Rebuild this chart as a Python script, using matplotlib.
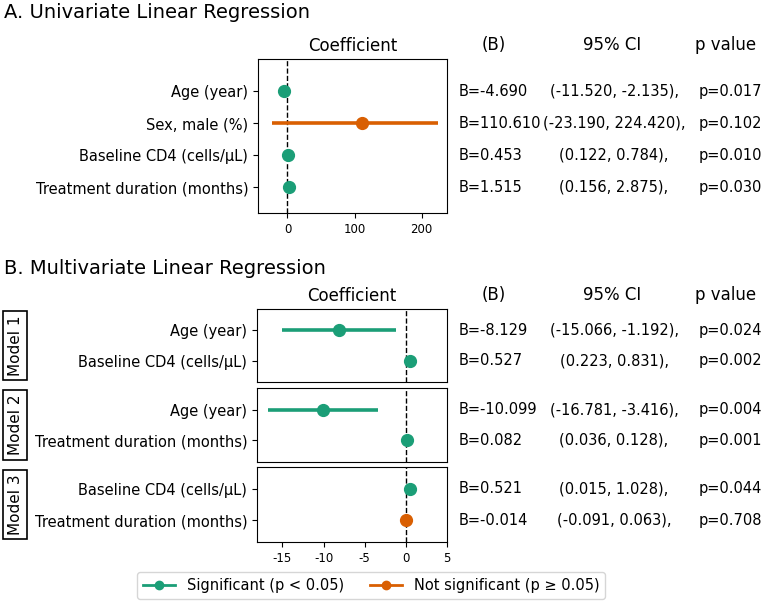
import matplotlib
matplotlib.use('agg')
import matplotlib.pyplot as plt
import matplotlib.transforms as mtransforms
from matplotlib.lines import Line2D

plt.rcParams['axes.unicode_minus'] = False

# univariate results
uni_labels = ["Age (year)", "Sex, male (%)", "Baseline CD4 (cells/μL)", "Treatment duration (months)"]
uni_b = [-4.690, 110.610, 0.453, 1.515]
uni_lo = [-11.520, -23.190, 0.122, 0.156]
uni_hi = [-2.135, 224.420, 0.784, 2.875]
uni_p = [0.017, 0.102, 0.010, 0.030]

# multivariate results, one list entry per model
multi_names = ["Model 1", "Model 2", "Model 3"]
multi_labels = [["Age (year)", "Baseline CD4 (cells/μL)"],
                ["Age (year)", "Treatment duration (months)"],
                ["Baseline CD4 (cells/μL)", "Treatment duration (months)"]]
multi_b = [[-8.129, 0.527], [-10.099, 0.082], [0.521, -0.014]]
multi_lo = [[-15.066, 0.223], [-16.781, 0.036], [0.015, -0.091]]
multi_hi = [[-1.192, 0.831], [-3.416, 0.128], [1.028, 0.063]]
multi_p = [[0.024, 0.002], [0.004, 0.001], [0.044, 0.708]]

GREEN = '#1b9e77'
ORANGE = '#d95f02'
W, H = 767, 604

fig = plt.figure(figsize=(W / 100, H / 100), dpi=100)


def px_axes(l, t, r, b):
    return fig.add_axes([l / W, 1 - b / H, (r - l) / W, (b - t) / H])


def fx(x):
    return x / W


def fy(y):
    return 1 - y / H


def draw_forest(ax, labels, b, lo, hi, p):
    ys = list(range(len(labels)))
    for y, bb, l, h, pp in zip(ys, b, lo, hi, p):
        c = GREEN if pp < 0.05 else ORANGE
        ax.plot([l, h], [y, y], color=c, lw=2.6, solid_capstyle='butt', zorder=2)
        ax.plot(bb, y, 'o', color=c, markersize=8.5, zorder=3)
    ax.axvline(0, color='black', ls='--', lw=1, zorder=1)
    ax.set_yticks(ys)
    ax.set_yticklabels(labels, fontsize=10.5)
    ax.tick_params(axis='x', labelsize=8.5)
    # text columns next to the plot
    tr = mtransforms.blended_transform_factory(fig.transFigure, ax.transData)
    for y, bb, l, h, pp in zip(ys, b, lo, hi, p):
        ax.text(fx(459), y, f"B={bb:.3f}", transform=tr, fontsize=10.5, va='center', ha='left')
        ax.text(fx(614), y, f"({l:.3f}, {h:.3f}),", transform=tr, fontsize=10.5, va='center', ha='center')
        ax.text(fx(699), y, f"p={pp:.3f}", transform=tr, fontsize=10.5, va='center', ha='left')


def headers(y):
    fig.text(fx(494), fy(y), "(B)", fontsize=12, ha='center', va='center')
    fig.text(fx(612), fy(y), "95% CI", fontsize=12, ha='center', va='center')
    fig.text(fx(726), fy(y), "p value", fontsize=12, ha='center', va='center')


# A. univariate
fig.text(fx(4), fy(13), "A. Univariate Linear Regression", fontsize=14, ha='left', va='center')
axA = px_axes(258, 59, 447, 213)
draw_forest(axA, uni_labels, uni_b, uni_lo, uni_hi, uni_p)
axA.set_xlim(-44, 238)
axA.set_ylim(3.8, -1)
axA.set_xticks([0, 100, 200])
axA.set_title("Coefficient", fontsize=12, pad=6)
headers(45)

# B. multivariate
fig.text(fx(4), fy(269), "B. Multivariate Linear Regression", fontsize=14, ha='left', va='center')
boxes = [(309, 382), (388, 462), (467, 542)]
axes_b = []
for i, (t, bt) in enumerate(boxes):
    ax = px_axes(257, t, 447, bt)
    draw_forest(ax, multi_labels[i], multi_b[i], multi_lo[i], multi_hi[i], multi_p[i])
    ax.set_xlim(-18.1, 4.5)
    ax.set_ylim(1.7, -0.7)
    ax.set_xticks([-15, -10, -5, 0, 5])
    if i < 2:
        ax.tick_params(axis='x', bottom=False, labelbottom=False)
    fig.text(fx(15), fy((t + bt) / 2), multi_names[i], rotation=90, fontsize=11,
             ha='center', va='center',
             bbox=dict(boxstyle='square,pad=0.3', facecolor='white', edgecolor='black', lw=1.2))
    axes_b.append(ax)
axes_b[0].set_title("Coefficient", fontsize=12, pad=6)
headers(295)

handles = [Line2D([], [], color=GREEN, marker='o', lw=2, markersize=6),
           Line2D([], [], color=ORANGE, marker='o', lw=2, markersize=6)]
fig.legend(handles, ["Significant (p < 0.05)", "Not significant (p ≥ 0.05)"],
           loc='lower center', bbox_to_anchor=(fx(371), fy(599)), ncol=2, fontsize=10.5,
           handlelength=2.2, columnspacing=1.8, borderaxespad=0, frameon=True)

fig.savefig('out.png', dpi=100)
